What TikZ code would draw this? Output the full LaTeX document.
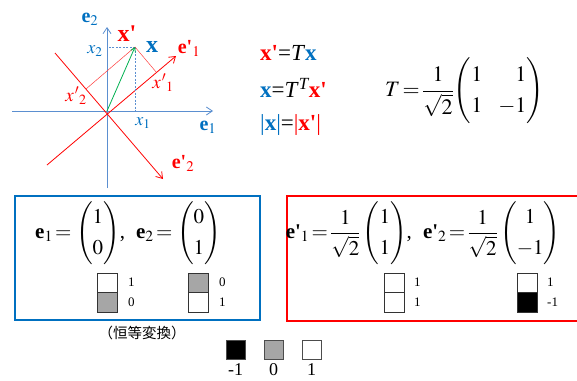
\documentclass[tikz,border=0pt]{standalone}
\usepackage{amsmath}
\usepackage{mathptmx}
\usepackage{fontspec}
\setmainfont{Liberation Serif}
\newfontfamily\cjkfont{Noto Sans CJK JP}
\usetikzlibrary{arrows.meta,calc}
\definecolor{ublue}{HTML}{0070C0}
\definecolor{axblue}{HTML}{5B8FD0}
\definecolor{ured}{HTML}{FF0000}
\definecolor{ugreen}{HTML}{00B050}
\definecolor{cellgray}{HTML}{A6A6A6}
\newcommand\pr{\textquotesingle}
\newcommand\cvec[2]{\left(\begin{array}{@{}c@{}}#1\\#2\end{array}\right)}
\tikzset{
  tip/.style={-{Straight Barb[length=6pt,width=8pt]}},
  axisline/.style={axblue,line width=0.8pt,tip},
  redaxis/.style={ured,line width=0.8pt,tip},
  projline/.style={ured!75,line width=0.5pt},
  dashline/.style={axblue,line width=0.6pt,dashed,dash pattern=on 2pt off 1.5pt},
  lbl/.style={inner sep=0pt,font=\fontsize{20}{24}\selectfont},
  eqtext/.style={inner sep=0pt,anchor=west,font=\fontsize{23}{26}\selectfont},
  teqtext/.style={inner sep=0pt,font=\fontsize{22}{23}\selectfont},
  boxtext/.style={inner sep=0pt,font=\fontsize{21}{22}\selectfont},
  cell/.style={draw=black!80,line width=0.5pt,minimum width=20pt,minimum height=19.5pt,inner sep=0pt},
  small/.style={inner sep=0pt,anchor=west,font=\fontsize{13}{15}\selectfont},
  legcell/.style={draw=black!70,line width=0.6pt,minimum width=19pt,minimum height=19pt,inner sep=0pt},
  leglbl/.style={inner sep=0pt,font=\fontsize{18}{20}\selectfont},
  frame/.style={line width=1.6pt},
}
\begin{document}
\begin{tikzpicture}[x=1pt,y=-1pt]
\useasboundingbox (0,0) rectangle (577,380);
% ---------- axes ----------
\coordinate (O) at (107,111);
\coordinate (HA) at (12,111);
\coordinate (HB) at (213,111);
\coordinate (VA) at (107,188);
\coordinate (VB) at (107,27);
\coordinate (E1a) at (47,165);
\coordinate (E1b) at (176,56);
\coordinate (E2a) at (55,53);
\coordinate (E2b) at (163,179);
\coordinate (P) at (135,47);
\draw[axisline] (HA) -- (HB);
\draw[axisline] (VA) -- (VB);
\draw[redaxis] (E1a) -- (E1b);
\draw[redaxis] (E2a) -- (E2b);
\coordinate (F1) at ($(E1a)!(P)!(E1b)$);
\coordinate (F2) at ($(E2a)!(P)!(E2b)$);
\coordinate (PX) at (107,47);
\coordinate (PY) at (135,111);
\draw[dashline] (P) -- (PX);
\draw[dashline] (P) -- (PY);
\draw[projline] (P) -- (F1);
\draw[projline] (P) -- (F2);
\draw[ugreen,line width=0.8pt,-{Straight Barb[length=4pt,width=5pt]}] (O) -- (P);
% labels
\node[lbl,text=ublue] (le2) at (90,19) {\textbf{e}$_{2}$};
\node[lbl,text=ublue] (le1) at (208,127) {\textbf{e}$_{1}$};
\node[lbl,text=ublue,font=\fontsize{18}{20}\selectfont] (lx2) at (95,51) {$x_{2}$};
\node[lbl,text=ublue,font=\fontsize{18}{20}\selectfont] (lx1) at (143,123) {$x_{1}$};
\node[lbl,text=ured,font=\fontsize{24}{26}\selectfont] (lxp) at (127,34) {\textbf{x\pr}};
\node[lbl,text=ublue,font=\fontsize{24}{26}\selectfont] (lx) at (152,47) {\textbf{x}};
\node[lbl,text=ured] (le1p) at (189,48) {\textbf{e\pr}$_{1}$};
\node[lbl,text=ured] (le2p) at (183,163) {\textbf{e\pr}$_{2}$};
\node[lbl,text=ured,font=\fontsize{19}{20}\selectfont] (lx1p) at (163,83) {$x\mkern1mu'{}_{1}$};
\node[lbl,text=ured,font=\fontsize{19}{20}\selectfont] (lx2p) at (76,96) {$x\mkern1mu'{}_{2}$};
% ---------- equations ----------
\node[eqtext] (eq1) at (260,53) {\textcolor{ured}{\textbf{x\pr}}=\textit{T}\textcolor{ublue}{\textbf{x}}};
\node[eqtext] (eq2) at (260,88) {\textcolor{ublue}{\textbf{x}}=\textit{T}$^{\textit{T}}$\textcolor{ured}{\textbf{x\pr}}};
\node[eqtext] (eq3) at (260,125) {\textcolor{ublue}{|\textbf{x}|}=\textcolor{ured}{|\textbf{x\pr}|}};
\node[teqtext,anchor=west] (Teq) at (385,91) {\renewcommand{\arraystretch}{1.35}$T\mkern-2mu=\mkern-2mu\dfrac{1}{\sqrt{2}}\!\left(\begin{array}{@{}c@{\hspace{16pt}}r@{}}1 & 1\\ 1 & -1\end{array}\right)$};
% ---------- blue box ----------
\draw[frame,ublue] (15,196) rectangle (260,320);
\node[boxtext] (beq) at (128,233) {\renewcommand{\arraystretch}{1.4}\textbf{e}$_{1}\mkern-2mu=\cvec{1}{0}$,\; \textbf{e}$_{2}\mkern-2mu=\cvec{0}{1}$};
\node[cell,fill=white] (b1t) at (107,282.5) {};
\node[cell,fill=cellgray] (b1b) at (107,302) {};
\node[small] (b1tl) at (128,282) {1};
\node[small] (b1bl) at (128,302) {0};
\node[cell,fill=cellgray] (b2t) at (198,282.5) {};
\node[cell,fill=white] (b2b) at (198,302) {};
\node[small] (b2tl) at (219,282) {0};
\node[small] (b2bl) at (219,302) {1};
\node[inner sep=0pt,font=\cjkfont\fontsize{14.5}{16}\selectfont] (ident) at (142,333) {（恒等変換）};
% ---------- red box ----------
\draw[frame,ured] (287,196) rectangle (582,321);
\node[boxtext] (req) at (423,233) {\renewcommand{\arraystretch}{1.4}\textbf{e\pr}$_{1}\mkern-2mu=\mkern-2mu\dfrac{1}{\sqrt{2}}\cvec{1}{1}$,\; \textbf{e\pr}$_{2}\mkern-2mu=\mkern-2mu\dfrac{1}{\sqrt{2}}\cvec{1}{-1}$};
\node[cell,fill=white] (r1t) at (394,282.5) {};
\node[cell,fill=white] (r1b) at (394,302) {};
\node[small] (r1tl) at (414,282) {1};
\node[small] (r1bl) at (414,302) {1};
\node[cell,fill=white] (r2t) at (527,282.5) {};
\node[cell,fill=black] (r2b) at (527,302) {};
\node[small] (r2tl) at (547,282) {1};
\node[small] (r2bl) at (547,302) {-1};
% ---------- legend ----------
\node[legcell,fill=black] (g1) at (235.5,349.5) {};
\node[legcell,fill=cellgray] (g2) at (273.5,349.5) {};
\node[legcell,fill=white] (g3) at (311.5,349.5) {};
\node[leglbl] (g1l) at (235.5,370) {-1};
\node[leglbl] (g2l) at (273.5,370) {0};
\node[leglbl] (g3l) at (311.5,370) {1};
\end{tikzpicture}
\end{document}
